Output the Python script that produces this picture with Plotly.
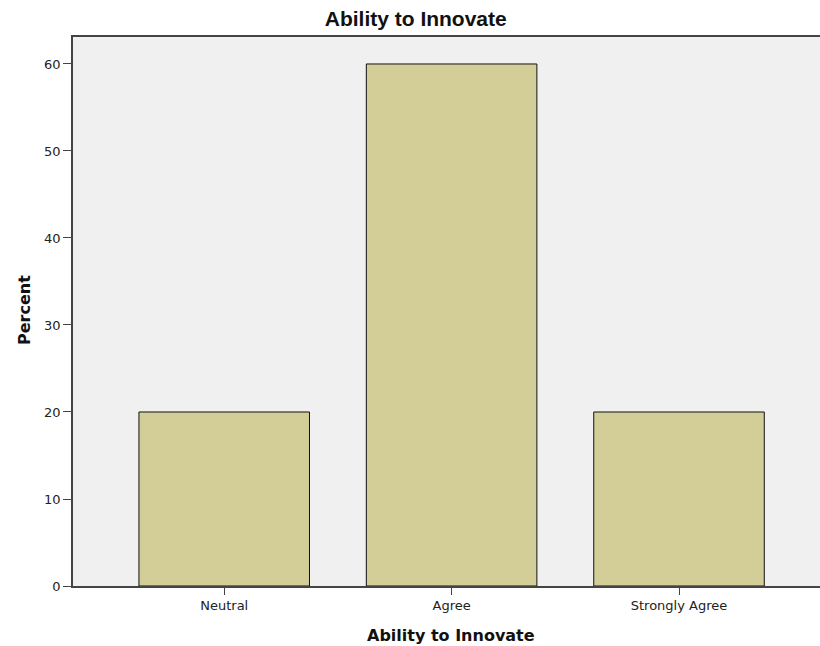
import plotly.graph_objects as go

# Ability to Innovate - percent of respondents
categories = ["Neutral", "Agree", "Strongly Agree"]
percent = [20, 60, 20]

bar_color = "#D3CE97"
bg_color = "#F0F0F0"
axis_color = "#444444"
title_font = "DejaVu Sans, Verdana, sans-serif"

fig = go.Figure()
fig.add_trace(go.Bar(
    x=list(range(len(categories))),
    y=percent,
    width=0.75,
    marker=dict(color=bar_color, line=dict(color="#111111", width=1)),
    hoverinfo="y",
))

fig.update_layout(
    width=820,
    height=646,
    paper_bgcolor="white",
    plot_bgcolor=bg_color,
    margin=dict(l=73, r=0, t=37, b=60),
    showlegend=False,
    font=dict(family=title_font, size=13, color="#222222"),
    title=dict(
        text="<b>Ability to Innovate</b>",
        x=0.507, xanchor="center",
        y=0.971, yanchor="middle",
        font=dict(family="Liberation Sans, Arial, sans-serif", size=21, color="#111111"),
    ),
)

# axis titles as annotations so the margins stay fixed
fig.add_annotation(
    text="<b>Ability to Innovate</b>", xref="paper", yref="paper",
    x=0.506, y=-0.0893, xanchor="center", yanchor="middle",
    showarrow=False, font=dict(family=title_font, size=16, color="#111111"),
)
fig.add_annotation(
    text="<b>Percent</b>", xref="paper", yref="paper",
    x=-0.0656, y=0.5027, xanchor="center", yanchor="middle", textangle=-90,
    showarrow=False, font=dict(family=title_font, size=16, color="#111111"),
)

fig.update_xaxes(
    range=[-0.665, 2.62],
    tickmode="array",
    tickvals=list(range(len(categories))),
    ticktext=categories,
    showline=True, linecolor=axis_color, linewidth=1.5,
    mirror=True,
    ticks="outside", ticklen=7, tickcolor=axis_color,
    showgrid=False, zeroline=False,
    tickfont=dict(size=13),
)

fig.update_yaxes(
    range=[0, 63.1],
    tickvals=[0, 10, 20, 30, 40, 50, 60],
    showline=True, linecolor=axis_color, linewidth=1.5,
    ticks="outside", ticklen=8, tickcolor=axis_color,
    showgrid=False, zeroline=False,
    tickfont=dict(size=13),
)

# drop the default 8px body margin so the figure fills the window
fig.write_html(
    "out.html",
    config={"displayModeBar": False},
    post_script="document.body.style.margin='0';",
)
